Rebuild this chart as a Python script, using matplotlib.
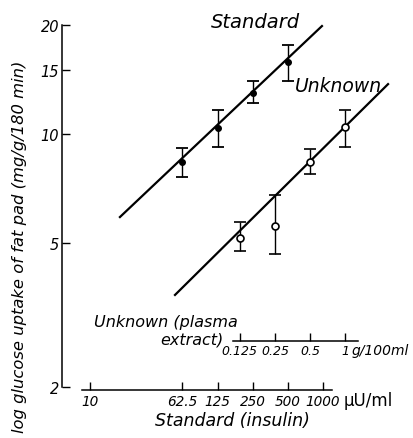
import matplotlib
matplotlib.use("Agg")
import matplotlib.pyplot as plt
from matplotlib.ticker import FixedLocator, FixedFormatter, NullLocator
import numpy as np

# ---- data ----
std_dose = [62.5, 125, 250, 500]                 # µU/ml insulin
std_mean = [8.36, 10.37, 12.96, 15.78]
std_lo = [7.60, 9.19, 12.16, 13.98]
std_hi = [9.14, 11.62, 13.98, 17.58]
std_line_x = [18.2, 980]
std_line_y = [5.89, 19.83]

unk_dose = [0.125, 0.25, 0.5, 1.0]               # g/100 ml plasma extract
unk_mean = [5.15, 5.57, 8.34, 10.41]
unk_lo = [4.75, 4.66, 7.74, 9.19]
unk_hi = [5.71, 6.78, 9.08, 11.62]
unk_line_x = [0.0348, 2.33]
unk_line_y = [3.59, 13.71]

y_ticks = [2, 5, 10, 15, 20]
y_ticklabels = ["2", "5", "10", "15", "20"]
std_ticks = [10, 62.5, 125, 250, 500, 1000]
std_ticklabels = ["10", "62.5", "125", "250", "500", "1000"]
unk_ticks = [0.125, 0.25, 0.5, 1.0]
unk_ticklabels = ["0.125", "0.25", "0.5", "1"]
K = 1550.0   # µU/ml per g/100ml on the drawing

W, H = 414, 439
fig = plt.figure(figsize=(W / 100, H / 100), dpi=100)
FONT = dict(family="DejaVu Sans", style="italic")

L, R, T, B = 62.5, 400, 25.7, 388
pos = [L / W, 1 - B / H, (R - L) / W, (B - T) / H]
ax = fig.add_axes(pos)
ax.set_xscale("log")
ax.set_yscale("log")
ax.set_xlim(5.86, 4571)
ax.set_ylim(2, 20)

for s in ["top", "right"]:
    ax.spines[s].set_visible(False)
ax.spines["left"].set_linewidth(1.1)
ax.spines["bottom"].set_linewidth(1.1)
ax.spines["bottom"].set_position(("outward", 2.2))
ax.spines["bottom"].set_bounds(8.6, 1188)

ax.yaxis.set_major_locator(FixedLocator(y_ticks))
ax.yaxis.set_major_formatter(FixedFormatter(y_ticklabels))
ax.yaxis.set_minor_locator(NullLocator())
ax.xaxis.set_major_locator(FixedLocator(std_ticks))
ax.xaxis.set_major_formatter(FixedFormatter(std_ticklabels))
ax.xaxis.set_minor_locator(NullLocator())
ax.tick_params(axis="both", direction="in", length=5.5, width=1.0, pad=2.5)
ax.tick_params(axis="x", labelsize=9.8)
ax.tick_params(axis="y", labelsize=10.5)
for lab in ax.get_xticklabels() + ax.get_yticklabels():
    lab.set_fontstyle("italic")

# standard
ax.plot(std_line_x, std_line_y, color="black", lw=1.6, clip_on=False)
ax.errorbar(std_dose, std_mean,
            yerr=[np.array(std_mean) - np.array(std_lo), np.array(std_hi) - np.array(std_mean)],
            fmt="o", color="black", ms=4, elinewidth=1.0, capsize=4.5, capthick=1.3,
            clip_on=False, zorder=3)

# unknown axis
ax2 = fig.add_axes(pos, sharey=ax)
ax2.patch.set_visible(False)
ax2.set_xscale("log")
ax2.set_xlim(5.86 / K, 4571 / K)
for s in ["top", "right", "left"]:
    ax2.spines[s].set_visible(False)
ax2.spines["bottom"].set_linewidth(1.1)
ax2.spines["bottom"].set_position(("axes", (B - 342.3) / (B - T)))
ax2.spines["bottom"].set_bounds(0.109, 1.287)
ax2.xaxis.set_major_locator(FixedLocator(unk_ticks))
ax2.xaxis.set_major_formatter(FixedFormatter(unk_ticklabels))
ax2.xaxis.set_minor_locator(NullLocator())
ax2.tick_params(axis="x", direction="in", length=5.5, width=1.0, pad=2.0, labelsize=9)
ax2.tick_params(axis="y", left=False, labelleft=False)
for lab in ax2.get_xticklabels():
    lab.set_fontstyle("italic")

ax2.plot(unk_line_x, unk_line_y, color="black", lw=1.6, clip_on=False)
ax2.errorbar(unk_dose, unk_mean,
             yerr=[np.array(unk_mean) - np.array(unk_lo), np.array(unk_hi) - np.array(unk_mean)],
             fmt="o", color="black", mfc="white", mec="black", mew=1.2, ms=5,
             elinewidth=1.0, capsize=4.5, capthick=1.3, clip_on=False, zorder=3)

def ftext(x, y, s, **kw):
    d = dict(FONT)
    d.update(kw)
    fig.text(x / W, 1 - y / H, s, **d)

ftext(255, 22, "Standard", size=14, ha="center", va="center")
ftext(338, 86, "Unknown", size=13.5, ha="center", va="center")
ftext(166, 323, "Unknown (plasma", size=11.5, ha="center", va="center")
ftext(224, 340, "extract)", size=11.5, ha="right", va="center")
ftext(352, 351, "g/100ml", size=10, ha="left", va="center")
ftext(344, 401, "µU/ml", size=12, ha="left", va="center", style="normal")
ftext(232, 421, "Standard (insulin)", size=12.5, ha="center", va="center")
ftext(20, 247, "log glucose uptake of fat pad (mg/g/180 min)", size=11.8,
      ha="center", va="center", rotation=90)

fig.savefig("out.png", dpi=100)
